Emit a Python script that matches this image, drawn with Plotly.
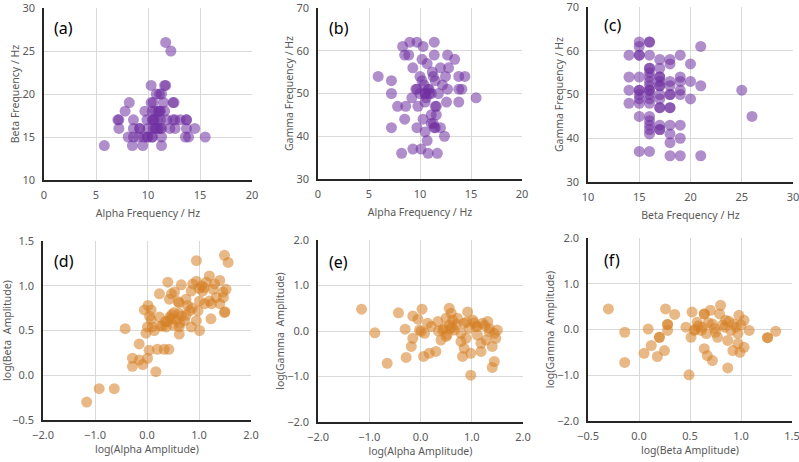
import plotly.graph_objects as go

# (a) alpha vs beta frequency
a_alpha = [11.7, 12.2, 10.3, 11.7, 11.6, 11.1, 10.8, 11.3, 8.2, 12.5, 12.4, 10.5, 11.5, 10.3,
           7.8, 9.7, 10.4, 11.0, 11.6, 10.7, 11.2, 7.2, 7.1, 8.6, 9.9, 10.5, 11.2, 11.8, 12.6,
           13.1, 13.7, 13.7, 10.4, 10.9, 7.2, 8.6, 9.2, 9.2, 10.0, 10.7, 11.3, 12.1, 12.6,
           13.7, 14.5, 10.5, 11.2, 8.1, 8.6, 9.1, 9.6, 10.0, 10.4, 10.4, 11.3, 13.6, 13.9,
           15.5, 5.8, 8.5, 9.5, 11.3, 10.8, 11.1, 10.6, 11.0, 9.9, 12.4]
a_beta = [26, 25, 21, 21, 21, 20, 20, 20, 19, 19, 19, 19, 19, 19,
          18, 18, 18, 18, 18, 18, 18, 17, 17, 17, 17, 17, 17, 17, 17,
          17, 17, 17, 17, 17, 16, 16, 16, 16, 16, 16, 16, 16, 16,
          16, 16, 16, 16, 15, 15, 15, 15, 15, 15, 15, 15, 15, 15,
          15, 14, 14, 14, 14, 16, 18, 17, 16, 15, 17]

# (b) alpha vs gamma frequency
b_alpha = [5.9, 7.2, 7.2, 7.2, 7.8, 8.6, 8.5, 8.2, 9.3, 10.1, 10.8, 11.7, 10.7, 8.3, 9.0,
           9.7, 10.3, 11.4, 8.5, 8.9, 9.3, 10.2, 10.7, 11.4, 12.7, 13.4, 12.8, 12.0, 10.0,
           11.3, 11.5, 12.5, 13.8, 14.4, 13.8, 14.1, 12.7, 9.7, 9.6, 10.2, 10.8, 10.9, 10.5,
           10.5, 10.6, 11.1, 10.0, 11.8, 12.6, 13.8, 15.5, 9.2, 9.8, 10.5, 11.5, 11.6, 11.6,
           10.3, 9.7, 11.1, 11.5, 11.4, 12.0, 12.4, 10.5, 11.1, 11.2, 10.4, 12.2, 10.9, 11.3]
b_gamma = [54, 53, 50, 42, 47, 47, 44, 36, 37, 37, 36, 36, 39, 61, 62,
           62, 61, 62, 59, 59, 56, 58, 57, 59, 59, 58, 56, 56, 54,
           54, 53, 54, 54, 54, 51, 51, 51, 51, 51, 53, 51, 50, 50,
           50, 49, 50, 50, 50, 48, 48, 49, 49, 47, 48, 47, 47, 45,
           44, 42, 43, 42, 42, 42, 40, 41, 45, 55, 52, 52, 51, 43]

# (c) beta vs gamma frequency
c_beta = [14, 14, 14, 14,
          15, 15, 15, 15, 15, 15, 15, 15, 15, 15, 15, 15,
          16, 16, 16, 16, 16, 16, 16, 16, 16, 16, 16, 16, 16, 16, 16, 16, 16, 16, 16, 16,
          17, 17, 17, 17, 17, 17, 17, 17, 17, 17, 17, 17, 17, 17,
          18, 18, 18, 18, 18, 18, 18, 18, 18, 18, 18, 18,
          19, 19, 19, 19, 19, 19, 19, 19,
          20, 20, 20, 21, 21, 21, 25, 26]
c_gamma = [59, 54, 51, 48,
           62, 61, 59, 59, 54, 51, 51, 50, 49, 48, 45, 37,
           62, 62, 59, 56, 56, 55, 54, 53, 52, 51, 51, 50, 49, 48, 45, 44, 43, 42, 41, 37,
           58, 56, 54, 54, 53, 52, 52, 50, 49, 47, 47, 43, 42, 42,
           58, 57, 53, 52, 50, 50, 47, 47, 43, 41, 39, 36,
           59, 54, 53, 51, 50, 43, 40, 36,
           57, 53, 49, 61, 52, 36, 51, 45]

# (d) log alpha vs log beta amplitude
d_alpha = [-1.16, -0.92, -0.63, -0.42, -0.15, -0.28, -0.28, -0.15, -0.08, 0.01, 0.04, 0.17,
           0.20, 0.33, 0.42, 0.08, -0.05, 0.08, 0.01, 0.10, -0.02, 0.14, 0.24, 0.40, 0.66,
           0.53, 0.43, 0.62, 0.37, 0.46, 0.62, 0.72, 0.62, 0.62, 0.85, 0.95, 1.01, 0.98, 1.01,
           0.85, 0.88, 0.95, 1.14, 1.20, 1.27, 1.40, 1.20, 1.40, 1.49, 1.52, 1.46, 1.33, 1.23,
           1.49, 1.56, 0.82, 0.75, 0.78, 1.07, 0.50, 0.47, 0.60, 1.11, 1.24, 1.47, 1.50, 0.02,
           0.05, 0.26, 0.39, 0.44, 0.66, 0.87, 0.75, 0.24, 0.35, 0.56, 0.52, 0.63, 1.00, 1.05,
           0.95, 1.10, 1.30, 0.48, 0.30]
d_beta = [-0.30, -0.15, -0.15, 0.52, 0.35, 0.19, 0.10, 0.17, 0.12, 0.19, 0.28, 0.04,
          0.29, 0.29, 0.29, 0.73, 0.73, 0.62, 0.54, 0.54, 0.47, 0.50, 0.91, 1.04, 1.01,
          0.93, 0.85, 0.81, 0.54, 0.63, 0.69, 0.61, 0.54, 0.46, 0.54, 0.61, 0.50, 0.72, 0.83,
          0.94, 1.02, 1.28, 1.04, 1.11, 0.96, 1.06, 0.83, 0.80, 0.70, 0.96, 0.93, 0.87, 0.63,
          1.34, 1.26, 0.72, 0.67, 0.78, 0.94, 0.56, 0.91, 0.82, 0.80, 0.80, 0.87, 0.71, 0.78,
          0.66, 0.55, 0.60, 0.65, 0.66, 0.75, 0.85, 0.65, 0.60, 0.62, 0.70, 0.58, 0.97, 1.00,
          1.05, 0.98, 1.02, 0.68, 0.55]

# (e) log alpha vs log gamma amplitude
e_alpha = [-1.15, -0.89, -0.65, -0.43, -0.28, -0.30, -0.15, -0.05, -0.15, -0.18, 0.03, -0.02,
           0.01, 0.08, 0.14, 0.06, 0.17, 0.30, 0.21, 0.34, 0.43, 0.40, 0.50, 0.56, 0.60, 0.63,
           0.56, 0.50, 0.66, 0.72, 0.79, 0.85, 0.92, 1.02, 0.79, 0.89, 0.85, 0.82, 0.98, 0.98,
           0.95, 1.08, 1.11, 1.18, 1.21, 1.31, 1.18, 1.28, 1.44, 1.47, 1.50, 1.40, 1.44, 1.40,
           1.34, 1.11, 0.45, 0.70, 0.62, 1.25, 1.35, 0.52, 0.90, 1.05, 0.35, 0.58]
e_gamma = [0.48, -0.04, -0.71, 0.40, -0.58, 0.04, 0.33, 0.26, -0.16, -0.34, 0.48, 0.02,
           -0.01, -0.05, 0.17, -0.56, -0.49, -0.45, 0.10, 0.21, 0.02, -0.20, -0.12, 0.50, 0.39,
           0.24, 0.13, 0.28, 0.02, 0.28, -0.05, 0.17, 0.42, 0.24, -0.23, -0.16, -0.38, -0.56,
           -0.49, -0.97, 0.06, 0.10, -0.09, -0.27, 0.17, 0.21, -0.45, -0.20, -0.05, -0.16, 0.02,
           -0.34, -0.67, -0.80, -0.01, 0.10, 0.05, 0.15, 0.08, 0.12, 0.05, -0.08, 0.20, 0.18,
           0.00, 0.05]

# (f) log beta vs log gamma amplitude
f_beta = [-0.30, -0.14, -0.14, 0.09, 0.05, 0.12, 0.18, 0.20, 0.20, 0.25, 0.28, 0.28, 0.28,
          0.26, 0.35, 0.46, 0.49, 0.52, 0.54, 0.51, 0.57, 0.64, 0.64, 0.61, 0.66, 0.64, 0.67,
          0.72, 0.70, 0.72, 0.75, 0.79, 0.80, 0.84, 0.85, 0.87, 0.87, 0.90, 0.92, 0.97, 0.98,
          0.97, 0.99, 1.03, 1.03, 1.08, 1.26, 1.26, 1.34, 0.77, 0.93, 0.58, 0.68, 0.82, 0.95,
          0.55, 0.62, 0.88, 1.00, 0.74]
f_gamma = [0.45, -0.06, -0.72, 0.01, -0.52, -0.35, -0.59, -0.17, -0.17, -0.46, -0.02, 0.11,
           0.11, 0.45, 0.33, 0.05, -0.99, 0.38, -0.02, -0.17, 0.16, 0.34, 0.34, -0.02, -0.09,
           -0.42, -0.57, -0.68, 0.42, 0.12, -0.06, 0.34, 0.53, 0.05, 0.20, -0.24, -0.84, -0.02,
           -0.46, -0.09, 0.31, -0.31, -0.50, -0.39, 0.20, -0.02, -0.18, -0.18, -0.04, -0.17,
           0.12, 0.08, 0.15, 0.10, 0.05, 0.00, 0.05, 0.18, 0.10, 0.02]

PURPLE = "#7030A0"
ORANGE = "#D58025"
GRID = "#D9D9D9"
TXT = "#595959"
FONT = "Noto Sans"

# label, x, y, colour, x range, y range, x title, y title, x dtick, y dtick, tick format,
# plot box in pixels (left, right, top, bottom), label position in the box
panels = [
    ("(a)", a_alpha, a_beta, PURPLE, [0, 20], [10, 30], "Alpha Frequency / Hz",
     "Beta Frequency / Hz", 5, 5, "", (44, 252, 8, 180), (0.04, 0.885)),
    ("(b)", b_alpha, b_gamma, PURPLE, [0, 20], [30, 70], "Alpha Frequency / Hz",
     "Gamma Frequency / Hz", 5, 10, "", (318, 522, 8, 179), (0.045, 0.885)),
    ("(c)", c_beta, c_gamma, PURPLE, [10, 30], [30, 70], "Beta Frequency / Hz",
     "Gamma Frequency / Hz", 5, 10, "", (588, 793, 7, 182), (0.07, 0.895)),
    ("(d)", d_alpha, d_beta, ORANGE, [-2, 2], [-0.5, 1.5], "log(Alpha Amplitude)",
     "log(Beta  Amplitude)", 1, 0.5, ".1f", (43, 251, 241, 420), (0.043, 0.89)),
    ("(e)", e_alpha, e_gamma, ORANGE, [-2, 2], [-2, 2], "log(Alpha Amplitude)",
     "log(Gamma  Amplitude)", 1, 1, ".1f", (318, 523, 240, 422), (0.045, 0.88)),
    ("(f)", f_beta, f_gamma, ORANGE, [-0.5, 1.5], [-2, 2], "log(Beta Amplitude)",
     "log(Gamma  Amplitude)", 0.5, 1, ".1f", (588, 792, 238, 421), (0.07, 0.88)),
]

W, H = 799, 462
fig = go.Figure()
layout = {}
for i, (lab, xs, ys, col, xr, yr, xt, yt, dx, dy, fmt, box, lpos) in enumerate(panels):
    n = "" if i == 0 else str(i + 1)
    fig.add_trace(go.Scatter(x=xs, y=ys, mode="markers", xaxis="x" + n, yaxis="y" + n,
                             marker=dict(color=col, size=11, opacity=0.55, line=dict(width=0)),
                             showlegend=False))
    l, r, t, b = box
    common = dict(showgrid=True, gridcolor=GRID, gridwidth=1, zeroline=False,
                  showline=True, linecolor="#262626", linewidth=1.5, ticks="",
                  tickfont=dict(family=FONT, size=11, color=TXT), tickformat=fmt,
                  ticklabeloverflow="allow", automargin=False, fixedrange=True)
    layout["xaxis" + n] = dict(common, domain=[l / W, r / W], range=xr, dtick=dx,
                               anchor="y" + n, ticklabelstandoff=4,
                               title=dict(text=xt, standoff=9 if i < 3 else 5,
                                          font=dict(family=FONT, size=10.5, color=TXT)))
    layout["yaxis" + n] = dict(common, domain=[1 - b / H, 1 - t / H], range=yr, dtick=dy,
                               anchor="x" + n, ticklabelstandoff=5,
                               title=dict(text=yt, standoff=0,
                                          font=dict(family=FONT, size=10.5, color=TXT)))
    fig.add_annotation(text=lab, xref="x" + n + " domain", yref="y" + n + " domain",
                       x=lpos[0], y=lpos[1], xanchor="left", yanchor="middle",
                       showarrow=False, font=dict(family=FONT, size=16, color="black"))

fig.update_layout(width=W, height=H, margin=dict(l=0, r=0, t=0, b=0),
                  paper_bgcolor="white", plot_bgcolor="white", **layout)
# the page's default body margin would push the figure 8px in
fig.write_html("out.html", config={"displayModeBar": False},
               post_script="document.body.style.margin = '0';")
